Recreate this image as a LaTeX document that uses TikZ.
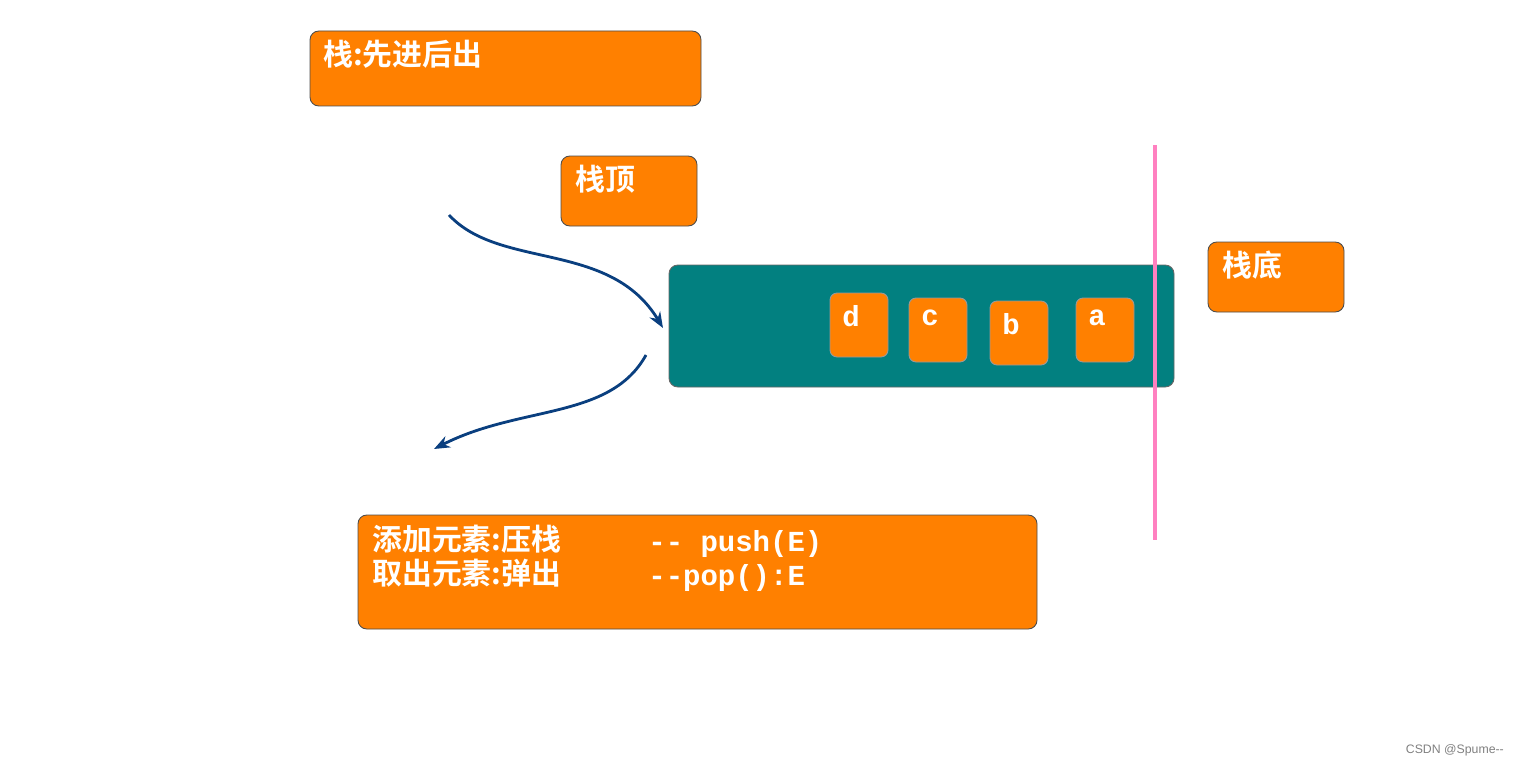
\documentclass[tikz,border=0pt]{standalone}
\usepackage{fontspec}
\usetikzlibrary{arrows.meta}
\newfontfamily\cjk{Noto Sans CJK SC Bold}
\newfontfamily\mono{Liberation Mono Bold}
\definecolor{org}{HTML}{FF8000}
\definecolor{teal2}{HTML}{028080}
\definecolor{arr}{HTML}{0A3F7F}
\definecolor{pinkl}{HTML}{FF80C0}
\tikzset{
 obox/.style={draw=black!70,fill=org,rounded corners=5pt,line width=0.5pt},
 tbox/.style={draw=black!60,fill=teal2,rounded corners=5pt,line width=0.5pt},
 lbl/.style={anchor=north west,text=white,inner sep=0pt,font=\fontsize{17}{19}\cjk},
 mlbl/.style={anchor=north west,text=white,inner sep=0pt,font=\fontsize{16.5}{19}\mono},
 carrow/.style={draw=arr,line width=1.6pt,-{Stealth[length=9pt,width=7pt]}}
}
\begin{document}
\begin{tikzpicture}[x=0.02cm,y=-0.02cm]
\useasboundingbox (0,0) rectangle (1524,767);
\draw[obox] (310,31) rectangle (701,106);
\node[lbl] (t1) at (323,40) {栈:先进后出};
\draw[obox] (561,156) rectangle (697,226);
\node[lbl] (t2) at (575,165) {栈顶};
\draw[tbox] (669,265) rectangle (1174,387);
\foreach \x/\y/\l in {830/293/d,909/298/c,990/301/b,1076/298/a}{
  \draw[obox,draw=black!40,rounded corners=4pt] (\x,\y) rectangle ++(58,64);
  \node[mlbl] at (\x+12,\y+12) {\l};
}
\draw[obox] (1208,242) rectangle (1344,312);
\node[lbl] (t3) at (1222,251) {栈底};
\draw[pinkl,line width=2pt] (1155,145) -- (1155,540);
\draw[obox] (358,515) rectangle (1037,629);
\node[lbl] (l1) at (372,525) {添加元素:压栈};
\node[mlbl] (m1) at (648,530) {-- push(E)};
\node[lbl] (l2) at (372,559) {取出元素:弹出};
\node[mlbl] (m2) at (648,564) {--pop():E};
\coordinate (a1) at (449,215); \coordinate (a2) at (663,328);
\coordinate (b1) at (646,355); \coordinate (b2) at (434,449);
\draw[carrow] (a1) .. controls (500,270) and (610,240) .. (a2);
\draw[carrow] (b1) .. controls (610,420) and (520,405) .. (b2);
\node[anchor=east,text=gray,font=\fontsize{7}{8}\selectfont\fontspec{Liberation Sans}] (wm) at (1510,750) {CSDN @Spume--};
\end{tikzpicture}
\end{document}
